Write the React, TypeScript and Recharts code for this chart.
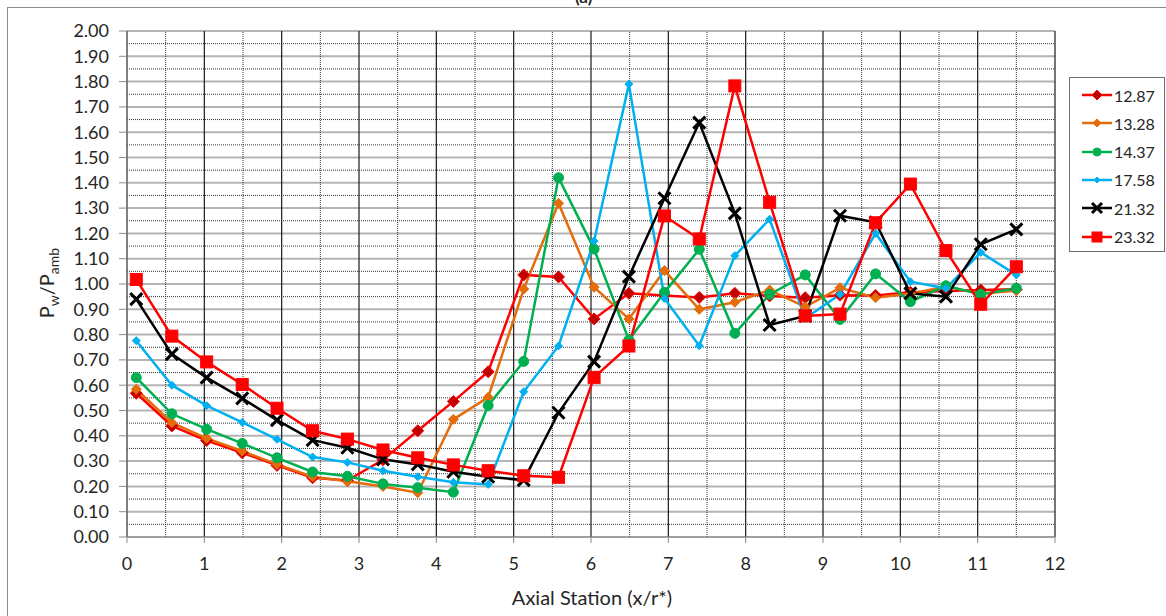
import React from "react";
import { LineChart, Line, XAxis, YAxis, CartesianGrid, ReferenceLine, Legend } from "recharts";

// axial stations (x/r*)
const STATIONS = [0.12, 0.58, 1.03, 1.49, 1.94, 2.4, 2.85, 3.31, 3.76, 4.22, 4.67, 5.13, 5.58, 6.04, 6.49, 6.95, 7.4, 7.86, 8.31, 8.77, 9.22, 9.68, 10.13, 10.59, 11.04, 11.5];

// Pw/Pamb per run
const P_1287 = [0.568, 0.439, 0.381, 0.333, 0.283, 0.234, 0.223, 0.305, 0.42, 0.536, 0.653, 1.036, 1.028, 0.862, 0.963, 0.955, 0.947, 0.963, 0.953, 0.946, 0.956, 0.955, 0.967, 0.972, 0.976, 0.979];
const P_1328 = [0.584, 0.452, 0.39, 0.34, 0.287, 0.238, 0.22, 0.2, 0.175, 0.465, 0.552, 0.98, 1.319, 0.987, 0.862, 1.053, 0.9, 0.928, 0.976, 0.91, 0.985, 0.946, 0.962, 0.99, 0.962, 0.973];
const P_1437 = [0.63, 0.487, 0.426, 0.37, 0.313, 0.257, 0.24, 0.21, 0.195, 0.177, 0.52, 0.694, 1.42, 1.138, 0.779, 0.967, 1.137, 0.805, 0.959, 1.036, 0.86, 1.04, 0.93, 0.993, 0.959, 0.983];
const P_1758 = [0.776, 0.6, 0.519, 0.453, 0.386, 0.316, 0.295, 0.262, 0.238, 0.216, 0.208, 0.574, 0.755, 1.17, 1.79, 0.943, 0.756, 1.112, 1.256, 0.864, 0.959, 1.2, 1.009, 0.983, 1.125, 1.036];
const P_2132 = [0.94, 0.723, 0.63, 0.548, 0.462, 0.383, 0.353, 0.307, 0.287, 0.258, 0.238, 0.225, 0.491, 0.693, 1.029, 1.339, 1.638, 1.279, 0.838, 0.874, 1.27, 1.244, 0.963, 0.95, 1.157, 1.216];
const P_2332 = [1.018, 0.794, 0.692, 0.603, 0.509, 0.42, 0.387, 0.344, 0.313, 0.285, 0.262, 0.242, 0.236, 0.631, 0.755, 1.269, 1.178, 1.783, 1.323, 0.874, 0.881, 1.242, 1.395, 1.132, 0.92, 1.068];

const X_TICKS = [0, 1, 2, 3, 4, 5, 6, 7, 8, 9, 10, 11, 12];
const Y_TICKS = [0, 0.1, 0.2, 0.3, 0.4, 0.5, 0.6, 0.7, 0.8, 0.9, 1, 1.1, 1.2, 1.3, 1.4, 1.5, 1.6, 1.7, 1.8, 1.9, 2];

type Shape = "diamond" | "circle" | "x" | "square";
const SERIES: { key: string; name: string; values: number[]; color: string; fill: string; shape: Shape; size: number }[] = [
  { key: "s1287", name: "12.87", values: P_1287, color: "#FF0000", fill: "#C00000", shape: "diamond", size: 6 },
  { key: "s1328", name: "13.28", values: P_1328, color: "#E46C0A", fill: "#E46C0A", shape: "diamond", size: 5 },
  { key: "s1437", name: "14.37", values: P_1437, color: "#00B050", fill: "#00B050", shape: "circle", size: 5 },
  { key: "s1758", name: "17.58", values: P_1758, color: "#00B0F0", fill: "#00B0F0", shape: "diamond", size: 4 },
  { key: "s2132", name: "21.32", values: P_2132, color: "#000000", fill: "#000000", shape: "x", size: 6 },
  { key: "s2332", name: "23.32", values: P_2332, color: "#FF0000", fill: "#FF0000", shape: "square", size: 6 },
];

const rows = STATIONS.map((x, i) => {
  const r: Record<string, number> = { x };
  SERIES.forEach((s) => (r[s.key] = s.values[i]));
  return r;
});

const FONT = "Lato, 'Open Sans', sans-serif";
const TXT = "#262626";

function marker(shape: Shape, cx: number, cy: number, size: number, color: string, fill: string, key?: any) {
  if (shape === "diamond")
    return <polygon key={key} points={`${cx},${cy - size} ${cx + size},${cy} ${cx},${cy + size} ${cx - size},${cy}`} fill={fill} stroke={color} strokeWidth={1} />;
  if (shape === "circle") return <circle key={key} cx={cx} cy={cy} r={size} fill={fill} stroke={color} strokeWidth={1} />;
  if (shape === "square")
    return <rect key={key} x={cx - size} y={cy - size} width={size * 2} height={size * 2} fill={fill} stroke={color} />;
  return (
    <g key={key} stroke={color} strokeWidth={3}>
      <line x1={cx - size} y1={cy - size} x2={cx + size} y2={cy + size} />
      <line x1={cx - size} y1={cy + size} x2={cx + size} y2={cy - size} />
    </g>
  );
}

function LegendBox() {
  return (
    <div style={{ width: 94, height: 173, border: "1.5px solid #6e6e6e", background: "#fff", position: "relative", fontFamily: FONT, fontSize: 16, color: TXT }}>
      {SERIES.map((s, i) => (
        <div key={s.key} style={{ position: "absolute", left: 0, top: 17 + i * 28.3 - 10, height: 20, display: "flex", alignItems: "center" }}>
          <svg width={43} height={20}>
            <line x1={12} y1={10} x2={42} y2={10} stroke={s.color} strokeWidth={2.5} />
            {marker(s.shape, 27, 10, Math.max(3, s.size - 1), s.color, s.fill)}
          </svg>
          <span style={{ marginLeft: 1 }}>{s.name}</span>
        </div>
      ))}
    </div>
  );
}

export default function App() {
  const minorY = Y_TICKS.slice(0, -1).map((t) => t + 0.05);
  const minorX = X_TICKS.slice(0, -1).map((t) => t + 0.5);
  return (
    <div style={{ position: "absolute", left: 0, top: 0, width: 1166, height: 616, overflow: "hidden", background: "#fff" }}>
      <div style={{ position: "absolute", left: 7, top: 7, width: 1180, height: 630, border: "1px solid #8c8c8c" }} />
      <div style={{ position: "absolute", left: 575, top: -14, fontFamily: FONT, fontSize: 17, fontWeight: 700, color: TXT }}>(a)</div>
      <LineChart width={1166} height={616} data={rows} margin={{ top: 31, right: 111, bottom: 19, left: 27 }}>
        <CartesianGrid horizontal={true} vertical={false} stroke="#b4b4b4" strokeWidth={2} />
        <CartesianGrid horizontal={false} vertical={true} stroke="#1a1a1a" strokeWidth={1.2} />
        {minorY.map((y) => (
          <ReferenceLine key={"y" + y} y={y} stroke="#333" strokeDasharray="1 1" strokeWidth={1} />
        ))}
        {minorX.map((x) => (
          <ReferenceLine key={"x" + x} x={x} stroke="#333" strokeDasharray="1 1" strokeWidth={1} />
        ))}
        <XAxis
          dataKey="x"
          type="number"
          domain={[0, 12]}
          ticks={X_TICKS}
          interval={0}
          height={60}
          tickSize={6}
          tickMargin={14}
          stroke="#8c8c8c"
          tick={{ fill: TXT, fontSize: 18, fontFamily: FONT }}
          label={{
            content: () => (
              <text x={592} y={605} textAnchor="middle" fill={TXT} fontSize={20} fontFamily={FONT}>
                Axial Station (x/r*)
              </text>
            ),
          }}
        />
        <YAxis
          type="number"
          domain={[0, 2]}
          ticks={Y_TICKS}
          interval={0}
          width={100}
          tickSize={8}
          tickMargin={10}
          stroke="#8c8c8c"
          tickFormatter={(v: number) => v.toFixed(2)}
          tick={{ fill: TXT, fontSize: 18, fontFamily: FONT }}
          label={{
            content: () => (
              <text transform="rotate(-90 47 283)" x={47} y={290} textAnchor="middle" fill={TXT} fontSize={20} fontFamily={FONT}>
                P<tspan dy={5} fontSize={14}>w</tspan>
                <tspan dy={-5}>/P</tspan>
                <tspan dy={5} fontSize={14}>amb</tspan>
              </text>
            ),
          }}
        />
        {SERIES.map((s) => (
          <Line
            key={s.key}
            dataKey={s.key}
            name={s.name}
            stroke={s.color}
            strokeWidth={2.5}
            isAnimationActive={false}
            dot={(p: any) => marker(s.shape, p.cx, p.cy, s.size, s.color, s.fill, p.index)}
            activeDot={false}
          />
        ))}
        <Legend
          layout="vertical"
          align="center"
          verticalAlign="middle"
          content={() => <LegendBox />}
          wrapperStyle={{ left: 1069, top: 77, width: 96, height: 176 }}
        />
      </LineChart>
    </div>
  );
}
